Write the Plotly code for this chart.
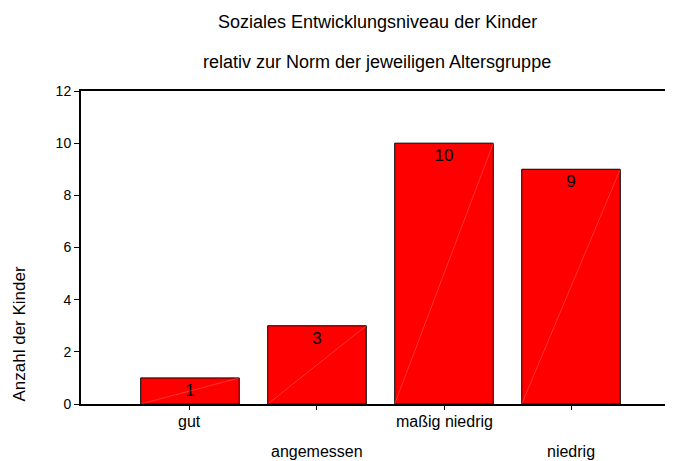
import plotly.graph_objects as go

# Data
categories = ["gut", "angemessen", "maßig niedrig", "niedrig"]
counts = [1, 3, 10, 9]
title_lines = ["Soziales Entwicklungsniveau der Kinder",
               "relativ zur Norm der jeweiligen Altersgruppe"]
y_title = "Anzahl der Kinder"
y_ticks = [0, 2, 4, 6, 8, 10, 12]

FONT = "Liberation Sans, Arial, sans-serif"
BAR_WIDTH = 0.776
positions = list(range(len(categories)))

fig = go.Figure()

fig.add_trace(go.Bar(
    x=positions,
    y=counts,
    width=BAR_WIDTH,
    marker=dict(color="#FF0000", line=dict(color="black", width=1)),
    text=[str(c) for c in counts],
    textposition="inside",
    insidetextanchor="end",
    constraintext="none",
    textfont=dict(family=FONT, size=17, color="black"),
    hoverinfo="skip",
))

# faint diagonal sheen across each bar (bottom-left to top-right)
diag_x, diag_y = [], []
for p, c in zip(positions, counts):
    diag_x += [p - BAR_WIDTH / 2, p + BAR_WIDTH / 2, None]
    diag_y += [0, c, None]
fig.add_trace(go.Scatter(
    x=diag_x, y=diag_y, mode="lines",
    line=dict(color="rgba(255,170,170,0.6)", width=0.5),
    hoverinfo="skip",
))

# staggered category labels
for i, (p, name) in enumerate(zip(positions, categories)):
    fig.add_annotation(
        x=p, xref="x", y=0, yref="paper",
        text=name, showarrow=False,
        xanchor="center", yanchor="top",
        yshift=-7 if i % 2 == 0 else -37,
        font=dict(family=FONT, size=16, color="black"),
    )

# two-line title, centred over the plot area
for line, ty in zip(title_lines, [69, 29]):
    fig.add_annotation(
        x=0.5, xref="paper", y=1, yref="paper", yshift=ty,
        text=line, showarrow=False, xanchor="center", yanchor="middle",
        font=dict(family=FONT, size=18, color="black"),
    )

fig.add_annotation(
    x=0, xref="paper", xshift=-62, y=0, yref="paper",
    text=y_title, textangle=-90, showarrow=False,
    xanchor="center", yanchor="bottom",
    font=dict(family=FONT, size=17, color="black"),
)

# page body has an 8px margin, so the figure is sized to fill the rest
fig.update_layout(
    width=665, height=453,
    margin=dict(l=73, r=0, t=83, b=57),
    plot_bgcolor="white", paper_bgcolor="white",
    showlegend=False,
    font=dict(family=FONT, color="black"),
)
fig.update_xaxes(
    range=[-0.858, 3.803],
    showgrid=False, zeroline=False,
    showline=True, linecolor="black", linewidth=2, mirror=True,
    ticks="outside", ticklen=4, tickcolor="black",
    tickvals=positions, showticklabels=False,
)
fig.update_yaxes(
    range=[0, 12], tickvals=y_ticks,
    showgrid=False, zeroline=False,
    showline=True, linecolor="black", linewidth=2,
    ticks="outside", ticklen=5, tickcolor="black",
    tickfont=dict(family=FONT, size=14, color="black"),
)

fig.write_html("out.html")
